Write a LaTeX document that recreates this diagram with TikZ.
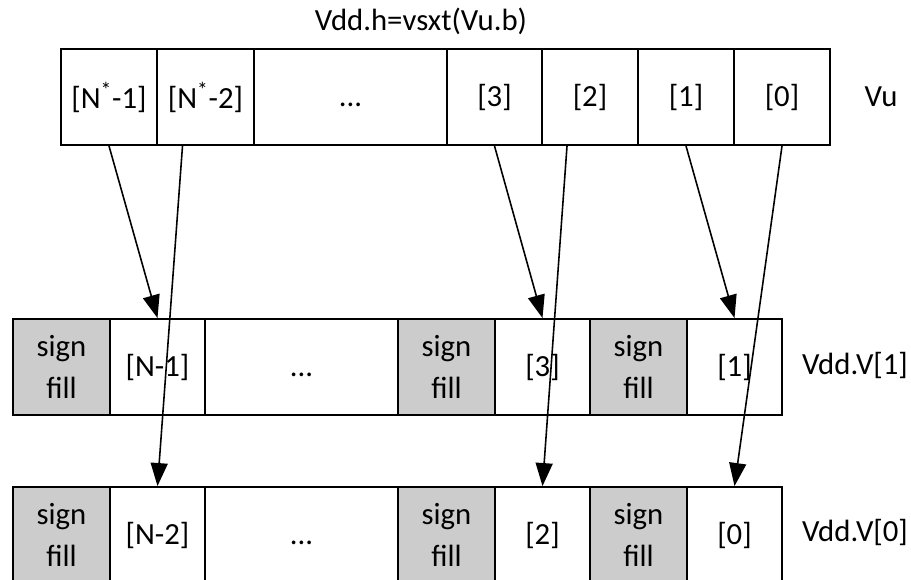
\documentclass[tikz,border=0pt]{standalone}
\usepackage{fontspec}
\setmainfont{Carlito}
\usetikzlibrary{arrows.meta}
\tikzstyle{cell}=[rectangle, draw=black, line width=1.1pt, inner sep=0pt, anchor=center, align=center, minimum height=1.92cm, font=\fontsize{17.5}{23.5}\selectfont]
\tikzstyle{plain}=[cell, fill=white]
\tikzstyle{sfill}=[cell, fill=black!20]
\tikzstyle{annot}=[align=center, font=\fontsize{17.5}{21}\selectfont]
\tikzstyle{move}=[-{Triangle[length=0.46cm,width=0.34cm]}, line width=0.9pt]
\newcommand{\sgn}{sign\\fill}
\newcommand{\gap}{\vphantom{[]}...}

\begin{document}
\begin{tikzpicture}[x=0.02cm, y=-0.02cm]
	\useasboundingbox (0,0) rectangle (911,579);

	% Vu
	\foreach \nm/\xa/\xb/\txt in {un1/61/157/{[N\textsuperscript{*}-1]}, un2/157/254/{[N\textsuperscript{*}-2]}, udots/254/447/\gap, u3/447/542/{[3]}, u2/542/638/{[2]}, u1/638/734/{[1]}, u0/734/830/{[0]}}
		\node[plain, minimum width={(\xb-\xa)*0.02cm}](\nm) at ({(\xa+\xb)/2}, 97){\txt};

	% Vdd.V[1]
	\foreach \nm/\st/\xa/\xb/\txt in {ha/sfill/13/110/\sgn, hn1/plain/110/205/{[N-1]}, hdots/plain/205/398/\gap, hb/sfill/398/495/\sgn, h3/plain/495/590/{[3]}, hc/sfill/590/687/\sgn, h1/plain/687/782/{[1]}}
		\node[\st, minimum width={(\xb-\xa)*0.02cm}](\nm) at ({(\xa+\xb)/2}, 367){\txt};

	% Vdd.V[0]
	\foreach \nm/\st/\xa/\xb/\txt in {la/sfill/13/110/\sgn, ln2/plain/110/205/{[N-2]}, ldots/plain/205/398/\gap, lb/sfill/398/495/\sgn, l2/plain/495/590/{[2]}, lc/sfill/590/687/\sgn, l0/plain/687/782/{[0]}}
		\node[\st, minimum width={(\xb-\xa)*0.02cm}](\nm) at ({(\xa+\xb)/2}, 535){\txt};

	\node[annot](title) at (421, 21){Vdd.h=vsxt(Vu.b)};
	\node[annot](vu) at (881, 97){Vu};
	\node[annot](vh) at (855, 365){Vdd.V[1]};
	\node[annot](vl) at (855, 532){Vdd.V[0]};

	% odd elements go up, even ones down
	\draw[move] (un1.south) -- (hn1.north);
	\draw[move] ([xshift=-0.46cm]un2.south) -- (ln2.north);
	\draw[move] (u3.south) -- (h3.north);
	\draw[move] ([xshift=-0.46cm]u2.south) -- (l2.north);
	\draw[move] (u1.south) -- (h1.north);
	\draw[move] (u0.south) -- (l0.north);

\end{tikzpicture}
\end{document}
